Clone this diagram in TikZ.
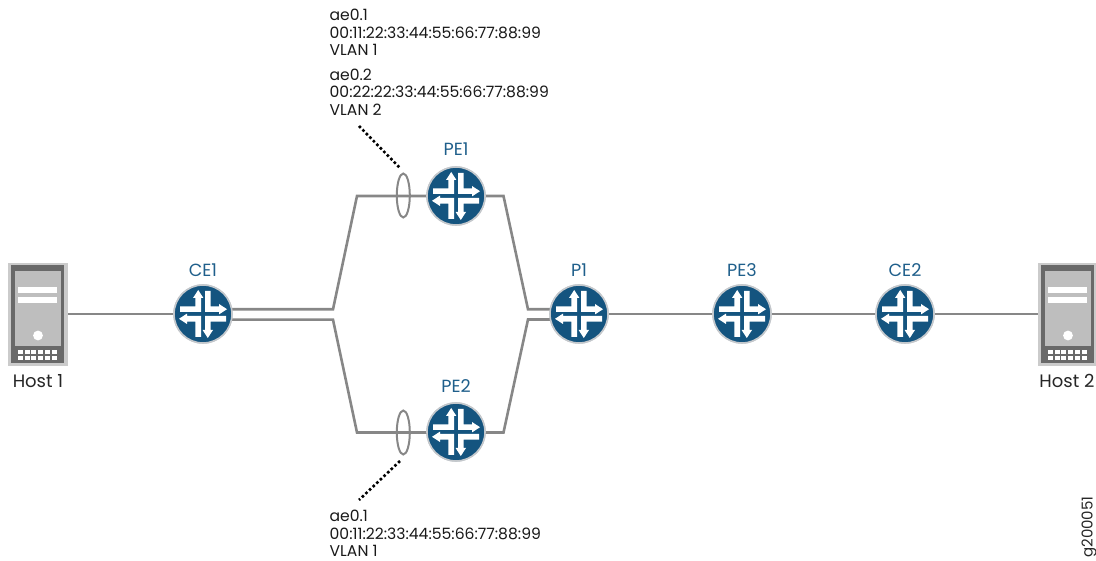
\documentclass[tikz,border=0pt]{standalone}
\usepackage{fontspec}
\usetikzlibrary{shapes.geometric}
\setmainfont{Poppins}
\definecolor{jblue}{HTML}{14547F}
\definecolor{jring}{HTML}{C4C8CC}
\definecolor{jline}{HTML}{878787}
\definecolor{jtext}{HTML}{1F5F8B}
\definecolor{hostout}{HTML}{CBCBCB}
\definecolor{hostdark}{HTML}{696969}
\definecolor{hostpanel}{HTML}{BEBEBE}
\tikzset{
  routernode/.style={circle,draw=jring,line width=1.6pt,fill=jblue,inner sep=0pt,minimum size=58pt},
  hostnode/.style={rectangle,fill=hostout,inner sep=0pt,minimum width=60pt,minimum height=103pt},
  link/.style={draw=jline,line width=2.6pt,line join=miter},
  thinring/.style={ellipse,draw=jline,line width=2pt,inner sep=0pt,minimum width=13pt,minimum height=44pt},
  dots/.style={draw=black,line width=2.6pt,dash pattern=on 2.6pt off 2.4pt},
  rlabel/.style={text=jtext,font=\fontsize{17.6}{18}\selectfont,inner sep=0pt},
  hlabel/.style={text=black!85,font=\fontsize{18}{18}\selectfont,inner sep=0pt},
  addr/.style={text=black!90,align=left,anchor=north west,inner sep=0pt,font=\fontsize{15.6}{17.6}\selectfont},
}
\newcommand{\routerglyph}[1]{%
  \begin{scope}[shift={(#1)}]
    \foreach \a in {0,90,180,270}{
      \fill[white,rotate=\a] (-23,-7.6) -- (-7.6,-7.6) -- (-7.6,-16) -- (-10,-16) -- (-4.8,-24) -- (0.4,-16) -- (-2,-16) -- (-2,-2) -- (-23,-2) -- cycle;
    }
  \end{scope}}
\newcommand{\hostglyph}[1]{%
  \begin{scope}[shift={(#1)}]
    \fill[hostdark] (-27,-49) rectangle (26,49);
    \fill[hostpanel] (-23.5,-43.5) rectangle (22.7,32);
    \fill[white] (-20,-27.5) rectangle (19,-21);
    \fill[white] (-20,-17.5) rectangle (19,-11);
    \fill[white] (0,21) circle (4.9);
    \foreach \c in {0,...,5}{
      \fill[white] ({-20+\c*6.7},35.3) rectangle ({-20+\c*6.7+5},39.7);
      \fill[white] ({-20+\c*6.7},41.7) rectangle ({-20+\c*6.7+5},46);
    }
  \end{scope}}
\begin{document}
\begin{tikzpicture}[x=1pt,y=-1pt]
\useasboundingbox (0,0) rectangle (1096,561);
\clip (0,0) rectangle (1096,561);
% nodes
\node[hostnode] (h1) at (38,314.5) {};
\node[hostnode] (h2) at (1068,314.5) {};
\node[routernode] (ce1) at (203,314) {};
\node[routernode] (pe1) at (456,196) {};
\node[routernode] (pe2) at (456,432) {};
\node[routernode] (p1) at (579,314) {};
\node[routernode] (pe3) at (742,314) {};
\node[routernode] (ce2) at (905,314) {};
\coordinate (ja) at (333,309.3);
\coordinate (jb) at (333,319.7);
\coordinate (ua) at (357,196);
\coordinate (lb) at (357,432.5);
\coordinate (ra) at (503.5,196);
\coordinate (rb) at (503.5,432.5);
\coordinate (ka) at (528,309.3);
\coordinate (kb) at (528,319.5);
\coordinate (d1a) at (359,126);
\coordinate (d1b) at (400,168);
\coordinate (d2a) at (400,461);
\coordinate (d2b) at (359,500);
% links
\draw[link] (h1.east |- ce1.center) -- (ce1);
\draw[link] (ce1.center |- ja) -- (ja) -- (ua) -- (pe1.center);
\draw[link] (ce1.center |- jb) -- (jb) -- (lb) -- (pe2.center |- lb);
\draw[link] (pe1.center) -- (ra) -- (ka) -- (p1.center |- ka);
\draw[link] (pe2.center |- rb) -- (rb) -- (kb) -- (p1.center |- kb);
\draw[link] (p1) -- (pe3);
\draw[link] (pe3) -- (ce2);
\draw[link] (ce2) -- (h2.west |- ce2.center);
% redraw routers on top of links
\foreach \r in {ce1,pe1,pe2,p1,pe3,ce2}{
  \node[routernode] at (\r.center) {};
  \routerglyph{\r.center}
}
\hostglyph{h1.center}
\hostglyph{h2.center}
% lag rings
\node[thinring] (lag1) at (403.3,195.5) {};
\node[thinring] (lag2) at (403.3,432.5) {};
\draw[dots] (d1a) -- (d1b);
\draw[dots] (d2a) -- (d2b);
% labels
\node[rlabel] (lce1) at (203,270.5) {CE1};
\node[rlabel] (lpe1) at (456,149.5) {PE1};
\node[rlabel] (lpe2) at (456,386.5) {PE2};
\node[rlabel] (lp1) at (579,270.5) {P1};
\node[rlabel] (lpe3) at (742,270.5) {PE3};
\node[rlabel] (lce2) at (905,270.5) {CE2};
\node[hlabel] (lh1) at (38,381) {Host 1};
\node[hlabel] (lh2) at (1067,381) {Host 2};
\node[addr] (t1) at (329.5,9) {ae0.1\\00:11:22:33:44:55:66:77:88:99\\VLAN 1};
\node[addr] (t2) at (329.5,68.5) {ae0.2\\00:22:22:33:44:55:66:77:88:99\\VLAN 2};
\node[addr] (t3) at (329.5,510) {ae0.1\\00:11:22:33:44:55:66:77:88:99\\VLAN 1};
\node[rotate=90,text=black!85,inner sep=0pt,font=\fontsize{15}{16}\selectfont] (fig) at (1089,527) {g200051};
\end{tikzpicture}
\end{document}
